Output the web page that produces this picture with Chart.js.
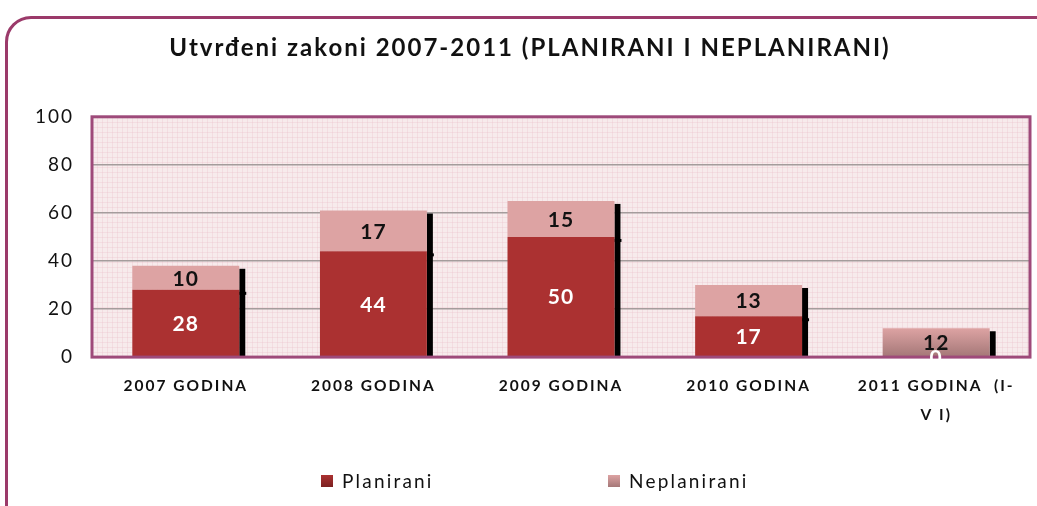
<!DOCTYPE html>
<html>
<head>
<meta charset="utf-8">
<script src="https://cdn.jsdelivr.net/npm/chart.js@4.4.1/dist/chart.umd.min.js"></script>
<style>
  html, body { margin: 0; padding: 0; background: #fff; }
  #wrap { position: relative; width: 1037px; height: 506px; overflow: hidden; }
  #frame {
    position: absolute; left: 5px; top: 16px; width: 1060px; height: 560px;
    border: 3px solid #9b3a6a; border-radius: 26px; box-sizing: border-box;
    pointer-events: none;
  }
</style>
</head>
<body>
<div id="wrap">
  <canvas id="zakoniChart" width="1037" height="506"></canvas>
  <div id="frame"></div>
</div>
<script>
const categories = ["2007 GODINA", "2008 GODINA", "2009 GODINA", "2010 GODINA", ["2011 GODINA  (I-", "V I)"]];
const planirani = [28, 44, 50, 17, 0];
const neplanirani = [10, 17, 15, 13, 12];
const yTicks = [0, 20, 40, 60, 80, 100];

const FONT = "Lato, 'Open Sans', sans-serif";

// gradient fill per bar segment, lighter at top
const gradients = [
    ["#ab3131", "#7b2020"],
    ["#dda3a3", "#a57878"]
];

// the original text is set wide, so space the letters out a bit
const spacing = {
    id: 'spacing',
    beforeUpdate(chart) { chart.ctx.letterSpacing = "2px"; },
    beforeDraw(chart) { chart.ctx.letterSpacing = "2px"; }
};

const plotBackground = {
    id: 'plotBackground',
    beforeDraw(chart) {
        const { ctx, chartArea: a } = chart;
        ctx.save();
        ctx.fillStyle = "#f7ebec";
        ctx.fillRect(a.left, a.top, a.width, a.height);
        ctx.strokeStyle = "rgba(232, 185, 196, 0.28)";
        ctx.lineWidth = 1;
        ctx.beginPath();
        for (let x = a.left + 5; x < a.right; x += 5) {
            ctx.moveTo(Math.round(x) + 0.5, a.top);
            ctx.lineTo(Math.round(x) + 0.5, a.bottom);
        }
        for (let y = a.bottom - 5; y > a.top; y -= 5) {
            ctx.moveTo(a.left, Math.round(y) + 0.5);
            ctx.lineTo(a.right, Math.round(y) + 0.5);
        }
        ctx.stroke();
        ctx.restore();
    }
};

const barShading = {
    id: 'barShading',
    beforeDatasetsDraw(chart) {
        const { ctx } = chart;
        chart.data.datasets.forEach((ds, i) => {
            chart.getDatasetMeta(i).data.forEach((bar) => {
                const top = Math.min(bar.y, bar.base);
                const bottom = Math.max(bar.y, bar.base);
                const g = ctx.createLinearGradient(0, top, 0, Math.max(bottom, top + 1));
                g.addColorStop(0, gradients[i][0]);
                g.addColorStop(1, gradients[i][1]);
                bar.options.backgroundColor = g;
            });
        });
        // black shadow on the right side of each stack
        const lower = chart.getDatasetMeta(0).data;
        const upper = chart.getDatasetMeta(1).data;
        ctx.save();
        ctx.fillStyle = "#000";
        lower.forEach((bar, j) => {
            const right = bar.x + bar.width / 2;
            const top = Math.min(bar.y, upper[j].y);
            ctx.fillRect(right, top + 3, 6, bar.base - top - 3);
            if (bar.base - bar.y > 1 && upper[j].base - upper[j].y > 1) {
                ctx.fillRect(right, bar.y + 2, 7, 3);
            }
        });
        ctx.restore();
    }
};

const plotFrame = {
    id: 'plotFrame',
    afterDatasetsDraw(chart) {
        const { ctx, chartArea: a } = chart;
        ctx.save();
        ctx.strokeStyle = "#9e4a7a";
        ctx.lineWidth = 3;
        ctx.strokeRect(a.left, a.top, a.width, a.height);
        ctx.restore();

        // value labels
        ctx.save();
        ctx.letterSpacing = "1px";
        ctx.font = "bold 21px " + FONT;
        ctx.textAlign = "center";
        ctx.textBaseline = "middle";
        chart.data.datasets.forEach((ds, i) => {
            ctx.fillStyle = i === 0 ? "#ffffff" : "#111111";
            chart.getDatasetMeta(i).data.forEach((bar, j) => {
                ctx.fillText(String(ds.data[j]), bar.x, (bar.y + bar.base) / 2 + 1);
            });
        });
        ctx.restore();
    }
};

const legendRow = {
    id: 'legendRow',
    afterDraw(chart) {
        const { ctx } = chart;
        const starts = [321, 608];
        ctx.save();
        ctx.letterSpacing = "2.2px";
        ctx.font = "19px " + FONT;
        ctx.textBaseline = "middle";
        ctx.textAlign = "left";
        chart.data.datasets.forEach((ds, i) => {
            const x = starts[i], y = 481;
            const g = ctx.createLinearGradient(0, y - 6, 0, y + 6);
            g.addColorStop(0, gradients[i][0]);
            g.addColorStop(1, gradients[i][1]);
            ctx.fillStyle = g;
            ctx.fillRect(x, y - 6, 12, 12);
            ctx.fillStyle = "#111";
            ctx.fillText(ds.label, x + 21, y + 1);
        });
        ctx.restore();
    }
};

new Chart(document.getElementById("zakoniChart").getContext("2d"), {
    type: 'bar',
    data: {
        labels: categories,
        datasets: [
            { label: "Planirani", data: planirani, backgroundColor: "#9a2a2a", borderWidth: 0 },
            { label: "Neplanirani", data: neplanirani, backgroundColor: "#c99090", borderWidth: 0 }
        ]
    },
    options: {
        responsive: false,
        animation: false,
        layout: { padding: { left: 30, right: 7, top: 0, bottom: 62 } },
        datasets: { bar: { barPercentage: 0.57, categoryPercentage: 1 } },
        plugins: {
            legend: { display: false },
            tooltip: { enabled: false },
            title: {
                display: true,
                text: "Utvrđeni zakoni 2007-2011 (PLANIRANI I NEPLANIRANI)",
                color: "#111",
                font: { family: FONT, size: 24, weight: 'bold' },
                padding: { top: 34, bottom: 54 }
            }
        },
        scales: {
            x: {
                stacked: true,
                grid: { display: false, drawTicks: false },
                border: { display: false },
                ticks: {
                    color: "#111",
                    font: { family: FONT, size: 15.5, weight: 'bold', lineHeight: 1.9 },
                    padding: 14,
                    maxRotation: 0,
                    autoSkip: false
                }
            },
            y: {
                stacked: true,
                min: 0,
                max: 100,
                afterFit(scale) { scale.width = 62; },
                afterBuildTicks(scale) { scale.ticks = yTicks.map(v => ({ value: v })); },
                grid: { color: "#a49c9c", lineWidth: 1.5, drawTicks: false },
                border: { display: false },
                ticks: {
                    color: "#111",
                    font: { family: FONT, size: 19 },
                    padding: 18
                }
            }
        }
    },
    plugins: [spacing, plotBackground, barShading, plotFrame, legendRow]
});
</script>
</body>
</html>
